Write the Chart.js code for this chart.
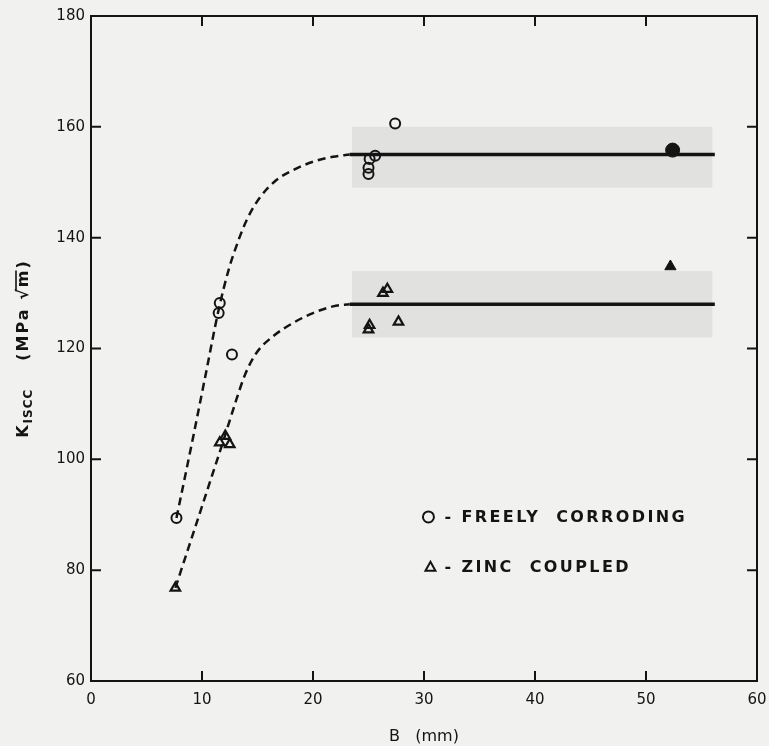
<!DOCTYPE html>
<html lang="en">
<head>
    <meta charset="UTF-8">
    <title>K ISCC vs specimen thickness B</title>
    <script src="https://cdn.jsdelivr.net/npm/chart.js"></script>
    <style>
        body {
            margin: 0;
            background: #f1f1ef;
        }
        .chart-container {
            position: relative;
            width: 769px;
            height: 746px;
        }
    </style>
</head>
<body>

<div class="chart-container">
    <canvas id="kChart"></canvas>
</div>

<script>
    // Tick labels
    const xTicks = [0, 10, 20, 30, 40, 50, 60];
    const yTicks = [60, 80, 100, 120, 140, 160, 180];

    // Freely corroding (open circles), B in mm, K in MPa sqrt(m)
    const freeB = [7.7, 11.5, 11.6, 12.7, 25.0, 25.0, 25.1, 25.6, 27.4];
    const freeK = [89.4, 126.4, 128.2, 118.9, 151.5, 152.6, 154.2, 154.8, 160.6];
    const freeSolidB = [52.4];
    const freeSolidK = [155.8];

    // Zinc coupled (open triangles)
    const zincB = [7.6, 11.6, 12.1, 12.5, 25.0, 25.1, 26.3, 26.7, 27.7];
    const zincK = [76.8, 103.0, 104.2, 102.7, 123.4, 124.2, 130.0, 130.7, 124.8];
    const zincSolidB = [52.2];
    const zincSolidK = [134.8];

    // Dashed trend curves
    const freeCurveB = [7.7, 9.2, 10.3, 11.5, 12.4, 13.3, 14.1, 15.2, 16.7, 18.2, 20.0, 21.8, 23.3];
    const freeCurveK = [89.4, 104, 115, 127, 134.2, 139.6, 143.5, 147.2, 150.4, 152.2, 153.7, 154.6, 155];
    const zincCurveB = [7.6, 9.2, 10.6, 11.9, 13.1, 13.9, 14.9, 16.4, 18.2, 20.0, 21.8, 23.3];
    const zincCurveK = [76.8, 86.6, 95.2, 103.2, 110.8, 115.4, 119.2, 122.2, 124.6, 126.4, 127.6, 128];

    // Plateau lines and scatter bands
    const plateauB = [23.3, 56.2];
    const freePlateau = [155, 155];
    const zincPlateau = [128, 128];
    const bandB = [23.5, 56.0];
    const freeBand = [149, 160];
    const zincBand = [122, 134];

    const pts = (xs, ys) => xs.map((x, i) => ({ x: x, y: ys[i] }));

    const INK = '#141414';
    const FONT = '"DejaVu Sans", sans-serif';

    // paper background, frame with inward ticks, y title and the legend
    const paperPlugin = {
        id: 'paper',
        beforeDraw(chart) {
            const ctx = chart.ctx;
            ctx.save();
            ctx.fillStyle = '#f1f1ef';
            ctx.fillRect(0, 0, chart.width, chart.height);
            ctx.restore();
        },
        afterDatasetsDraw(chart) {
            const { ctx, chartArea: a, scales: { x, y } } = chart;
            ctx.save();
            ctx.strokeStyle = INK;
            ctx.lineWidth = 2;
            ctx.strokeRect(a.left, a.top, a.right - a.left, a.bottom - a.top);

            ctx.beginPath();
            x.ticks.forEach(t => {
                const px = x.getPixelForValue(t.value);
                if (px <= a.left + 1 || px >= a.right - 1) return;
                ctx.moveTo(px, a.bottom); ctx.lineTo(px, a.bottom - 10);
                ctx.moveTo(px, a.top); ctx.lineTo(px, a.top + 10);
            });
            y.ticks.forEach(t => {
                const py = y.getPixelForValue(t.value);
                if (py <= a.top + 1 || py >= a.bottom - 1) return;
                ctx.moveTo(a.left, py); ctx.lineTo(a.left + 10, py);
                ctx.moveTo(a.right, py); ctx.lineTo(a.right - 10, py);
            });
            ctx.stroke();

            // y axis title: K_ISCC (MPa √m)
            ctx.save();
            ctx.translate(24, (a.top + a.bottom) / 2);
            ctx.rotate(-Math.PI / 2);
            ctx.fillStyle = INK;
            ctx.textBaseline = 'middle';
            ctx.textAlign = 'left';
            const big = '600 16px ' + FONT;
            const small = '600 12px ' + FONT;
            ctx.letterSpacing = '2px';
            ctx.font = big;
            const wK = ctx.measureText('K').width;
            const unit = '(MPa √m)';
            const wUnit = ctx.measureText(unit).width;
            const wPre = ctx.measureText('(MPa √').width;
            const wM = ctx.measureText('m').width;
            ctx.letterSpacing = '1px';
            ctx.font = small;
            const wSub = ctx.measureText('ISCC').width;
            const gap = 28;
            let cx = -(wK + wSub + gap + wUnit) / 2;
            ctx.letterSpacing = '2px';
            ctx.font = big;
            ctx.fillText('K', cx, 0);
            cx += wK;
            ctx.letterSpacing = '1px';
            ctx.font = small;
            ctx.fillText('ISCC', cx, 5);
            cx += wSub + gap;
            ctx.letterSpacing = '2px';
            ctx.font = big;
            ctx.fillText(unit, cx, 0);
            ctx.beginPath();
            ctx.lineWidth = 1.6;
            ctx.moveTo(cx + wPre - 4, -8);
            ctx.lineTo(cx + wPre + wM - 2, -8);
            ctx.stroke();
            ctx.restore();

            // legend
            const lx = x.getPixelForValue(30.4);
            const ly1 = y.getPixelForValue(89.6);
            const ly2 = y.getPixelForValue(80.6);
            ctx.lineWidth = 2;
            ctx.beginPath();
            ctx.arc(lx, ly1, 5.5, 0, Math.PI * 2);
            ctx.stroke();
            ctx.beginPath();
            ctx.moveTo(lx + 2, ly2 - 5);
            ctx.lineTo(lx + 7, ly2 + 4);
            ctx.lineTo(lx - 3, ly2 + 4);
            ctx.closePath();
            ctx.stroke();
            ctx.fillStyle = INK;
            ctx.font = '600 16px ' + FONT;
            ctx.letterSpacing = '2.4px';
            ctx.textBaseline = 'middle';
            ctx.fillText('- FREELY  CORRODING', lx + 16, ly1 + 1);
            ctx.fillText('- ZINC  COUPLED', lx + 16, ly2 + 1);
            ctx.restore();
        }
    };

    const ctx = document.getElementById('kChart').getContext('2d');
    const kChart = new Chart(ctx, {
        type: 'scatter',
        data: {
            datasets: [
                {
                    label: 'Freely corroding',
                    data: pts(freeB, freeK),
                    pointStyle: 'circle',
                    pointRadius: 5,
                    borderColor: INK,
                    borderWidth: 2,
                    backgroundColor: 'rgba(0,0,0,0)',
                    order: 1
                },
                {
                    label: 'Freely corroding (solid)',
                    data: pts(freeSolidB, freeSolidK),
                    pointStyle: 'circle',
                    pointRadius: 7,
                    borderColor: INK,
                    borderWidth: 1,
                    backgroundColor: INK,
                    order: 1
                },
                {
                    label: 'Zinc coupled',
                    data: pts(zincB, zincK),
                    pointStyle: 'triangle',
                    pointRadius: 5.5,
                    borderColor: INK,
                    borderWidth: 2.2,
                    backgroundColor: 'rgba(0,0,0,0)',
                    order: 1
                },
                {
                    label: 'Zinc coupled (solid)',
                    data: pts(zincSolidB, zincSolidK),
                    pointStyle: 'triangle',
                    pointRadius: 6.5,
                    borderColor: INK,
                    borderWidth: 1,
                    backgroundColor: INK,
                    order: 1
                },
                {
                    label: 'Freely corroding trend',
                    data: pts(freeCurveB, freeCurveK),
                    showLine: true,
                    cubicInterpolationMode: 'monotone',
                    borderColor: INK,
                    borderWidth: 2.5,
                    borderDash: [8, 5],
                    pointRadius: 0,
                    order: 5
                },
                {
                    label: 'Zinc coupled trend',
                    data: pts(zincCurveB, zincCurveK),
                    showLine: true,
                    cubicInterpolationMode: 'monotone',
                    borderColor: INK,
                    borderWidth: 2.5,
                    borderDash: [8, 5],
                    pointRadius: 0,
                    order: 5
                },
                {
                    label: 'Freely corroding plateau',
                    data: pts(plateauB, freePlateau),
                    showLine: true,
                    borderColor: INK,
                    borderWidth: 3.5,
                    pointRadius: 0,
                    order: 6
                },
                {
                    label: 'Zinc coupled plateau',
                    data: pts(plateauB, zincPlateau),
                    showLine: true,
                    borderColor: INK,
                    borderWidth: 3.5,
                    pointRadius: 0,
                    order: 6
                },
                {
                    label: 'Freely corroding band',
                    data: pts(bandB, [freeBand[1], freeBand[1]]),
                    showLine: true,
                    borderWidth: 0,
                    pointRadius: 0,
                    fill: { value: freeBand[0] },
                    backgroundColor: '#e1e1df',
                    order: 10
                },
                {
                    label: 'Zinc coupled band',
                    data: pts(bandB, [zincBand[1], zincBand[1]]),
                    showLine: true,
                    borderWidth: 0,
                    pointRadius: 0,
                    fill: { value: zincBand[0] },
                    backgroundColor: '#e1e1df',
                    order: 10
                }
            ]
        },
        options: {
            responsive: true,
            maintainAspectRatio: false,
            animation: false,
            layout: {
                padding: { top: 16, right: 12, left: 0, bottom: 0 }
            },
            plugins: {
                legend: { display: false },
                tooltip: { enabled: false }
            },
            scales: {
                x: {
                    type: 'linear',
                    min: 0,
                    max: 60,
                    afterBuildTicks: s => { s.ticks = xTicks.map(v => ({ value: v })); },
                    afterFit: s => {
                        s.height = 65;
                        s.paddingLeft = 0;
                        s.paddingRight = 0;
                    },
                    grid: { display: false, drawTicks: false },
                    border: { display: false },
                    ticks: {
                        color: INK,
                        padding: 10,
                        maxRotation: 0,
                        font: { family: FONT, size: 15 }
                    },
                    title: {
                        display: true,
                        text: 'B   (mm)',
                        color: INK,
                        padding: { top: 0, bottom: 0 },
                        font: { family: FONT, size: 16 }
                    }
                },
                y: {
                    type: 'linear',
                    min: 60,
                    max: 180,
                    afterBuildTicks: s => { s.ticks = yTicks.map(v => ({ value: v })); },
                    afterFit: s => {
                        s.width = 91;
                        s.paddingTop = 0;
                        s.paddingBottom = 0;
                    },
                    grid: { display: false, drawTicks: false },
                    border: { display: false },
                    ticks: {
                        color: INK,
                        padding: 6,
                        font: { family: FONT, size: 15 }
                    }
                }
            }
        },
        plugins: [paperPlugin]
    });
</script>

</body>
</html>
